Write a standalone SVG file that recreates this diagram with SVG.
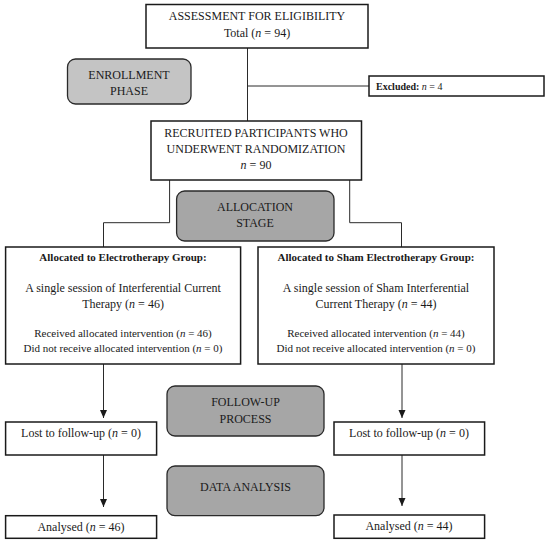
<svg xmlns="http://www.w3.org/2000/svg" width="550" height="543" viewBox="0 0 550 543">
<style>
.box{fill:#fff;stroke:#1a1a1a;stroke-width:1.5}
.stage{stroke:#2a2a2a;stroke-width:1.3}
.light{fill:#c4c4c4}
.dark{fill:#a6a6a6}
.conn{fill:none;stroke:#2a2a2a;stroke-width:1}
text{font-family:"Liberation Serif","Times New Roman",serif;fill:#1a1a1a;text-anchor:middle}
.t12{font-size:12px}
.t11{font-size:11px}
.b{font-weight:bold}
.i{font-style:italic}
</style>
<defs>
<marker id="ah" markerWidth="8" markerHeight="8" viewBox="0 0 8 8" refX="8" refY="4" orient="auto" markerUnits="userSpaceOnUse">
<path d="M0,0.5 L8,4 L0,7.5 Z" fill="#1a1a1a"/>
</marker>
</defs>
<rect width="550" height="543" fill="#fff"/>
<g id="connectors">
<path class="conn" d="M247.5,48 V121"/>
<path class="conn" d="M247.5,86 H369"/>
<path class="conn" d="M169.6,180 V222.7 H103.5 V247"/>
<path class="conn" d="M349.7,180 V222.7 H401.5 V247"/>
<path class="conn" d="M103.5,364 V418" marker-end="url(#ah)"/>
<path class="conn" d="M402,364 V418" marker-end="url(#ah)"/>
<path class="conn" d="M103.5,455 V507" marker-end="url(#ah)"/>
<path class="conn" d="M402,455 V506" marker-end="url(#ah)"/>
</g>
<g id="assessment">
<rect class="box" x="146" y="4.5" width="222" height="43.5"/>
<text class="t12" x="257" y="19.5">ASSESSMENT FOR ELIGIBILITY</text>
<text class="t12" x="257" y="37">Total (<tspan class="i">n</tspan> = 94)</text>
</g>
<g id="enrollment">
<rect class="stage light" x="67.5" y="59" width="123.5" height="45" rx="8"/>
<text class="t12" x="129" y="79">ENROLLMENT</text>
<text class="t12" x="129" y="95">PHASE</text>
</g>
<g id="excluded">
<rect class="box" x="369" y="76" width="175" height="20"/>
<text class="b" x="376" y="89.5" style="font-size:10px;text-anchor:start">Excluded: <tspan class="i" font-weight="normal">n</tspan><tspan font-weight="normal"> = 4</tspan></text>
</g>
<g id="recruited">
<rect class="box" x="151" y="121" width="210.5" height="59"/>
<text class="t12" x="256" y="136.5">RECRUITED PARTICIPANTS WHO</text>
<text class="t12" x="256" y="152.5">UNDERWENT RANDOMIZATION</text>
<text class="t12" x="256" y="168.5"><tspan class="i">n</tspan> = 90</text>
</g>
<g id="allocation">
<rect class="stage dark" x="176.6" y="191" width="157.4" height="50" rx="8"/>
<text class="t12" x="255" y="211">ALLOCATION</text>
<text class="t12" x="255" y="227">STAGE</text>
</g>
<g id="electro">
<rect class="box" x="5.6" y="247" width="235" height="117"/>
<text class="t11 b" x="123" y="261">Allocated to Electrotherapy Group:</text>
<text class="t12" x="123" y="292">A single session of Interferential Current</text>
<text class="t12" x="123" y="307.5">Therapy (<tspan class="i">n</tspan> = 46)</text>
<text class="t11" x="123" y="337">Received allocated intervention (<tspan class="i">n</tspan> = 46)</text>
<text class="t11" x="123" y="352">Did not receive allocated intervention (<tspan class="i">n</tspan> = 0)</text>
</g>
<g id="sham">
<rect class="box" x="258" y="247" width="236" height="117"/>
<text class="t11 b" x="376" y="261">Allocated to Sham Electrotherapy Group:</text>
<text class="t12" x="376" y="292">A single session of Sham Interferential</text>
<text class="t12" x="376" y="307.5">Current Therapy (<tspan class="i">n</tspan> = 44)</text>
<text class="t11" x="376" y="337">Received allocated intervention (<tspan class="i">n</tspan> = 44)</text>
<text class="t11" x="376" y="352">Did not receive allocated intervention (<tspan class="i">n</tspan> = 0)</text>
</g>
<g id="followup">
<rect class="stage dark" x="167" y="386" width="157" height="50" rx="8"/>
<text class="t12" x="245.5" y="406">FOLLOW-UP</text>
<text class="t12" x="245.5" y="422.5">PROCESS</text>
</g>
<g id="lost-left">
<rect class="box" x="5.6" y="422" width="151" height="33"/>
<text class="t12" x="81" y="436.7">Lost to follow-up (<tspan class="i">n</tspan> = 0)</text>
</g>
<g id="lost-right">
<rect class="box" x="334" y="422" width="150.6" height="33"/>
<text class="t12" x="409" y="436.7">Lost to follow-up (<tspan class="i">n</tspan> = 0)</text>
</g>
<g id="data-analysis">
<rect class="stage dark" x="167" y="466" width="157" height="49.7" rx="8"/>
<text class="t12" x="245.5" y="490.7">DATA ANALYSIS</text>
</g>
<g id="analysed-left">
<rect class="box" x="5.6" y="515.7" width="151" height="22.6"/>
<text class="t12" x="81" y="530.7">Analysed (<tspan class="i">n</tspan> = 46)</text>
</g>
<g id="analysed-right">
<rect class="box" x="334" y="515" width="150.6" height="23.3"/>
<text class="t12" x="409" y="530.2">Analysed (<tspan class="i">n</tspan> = 44)</text>
</g>
</svg>
